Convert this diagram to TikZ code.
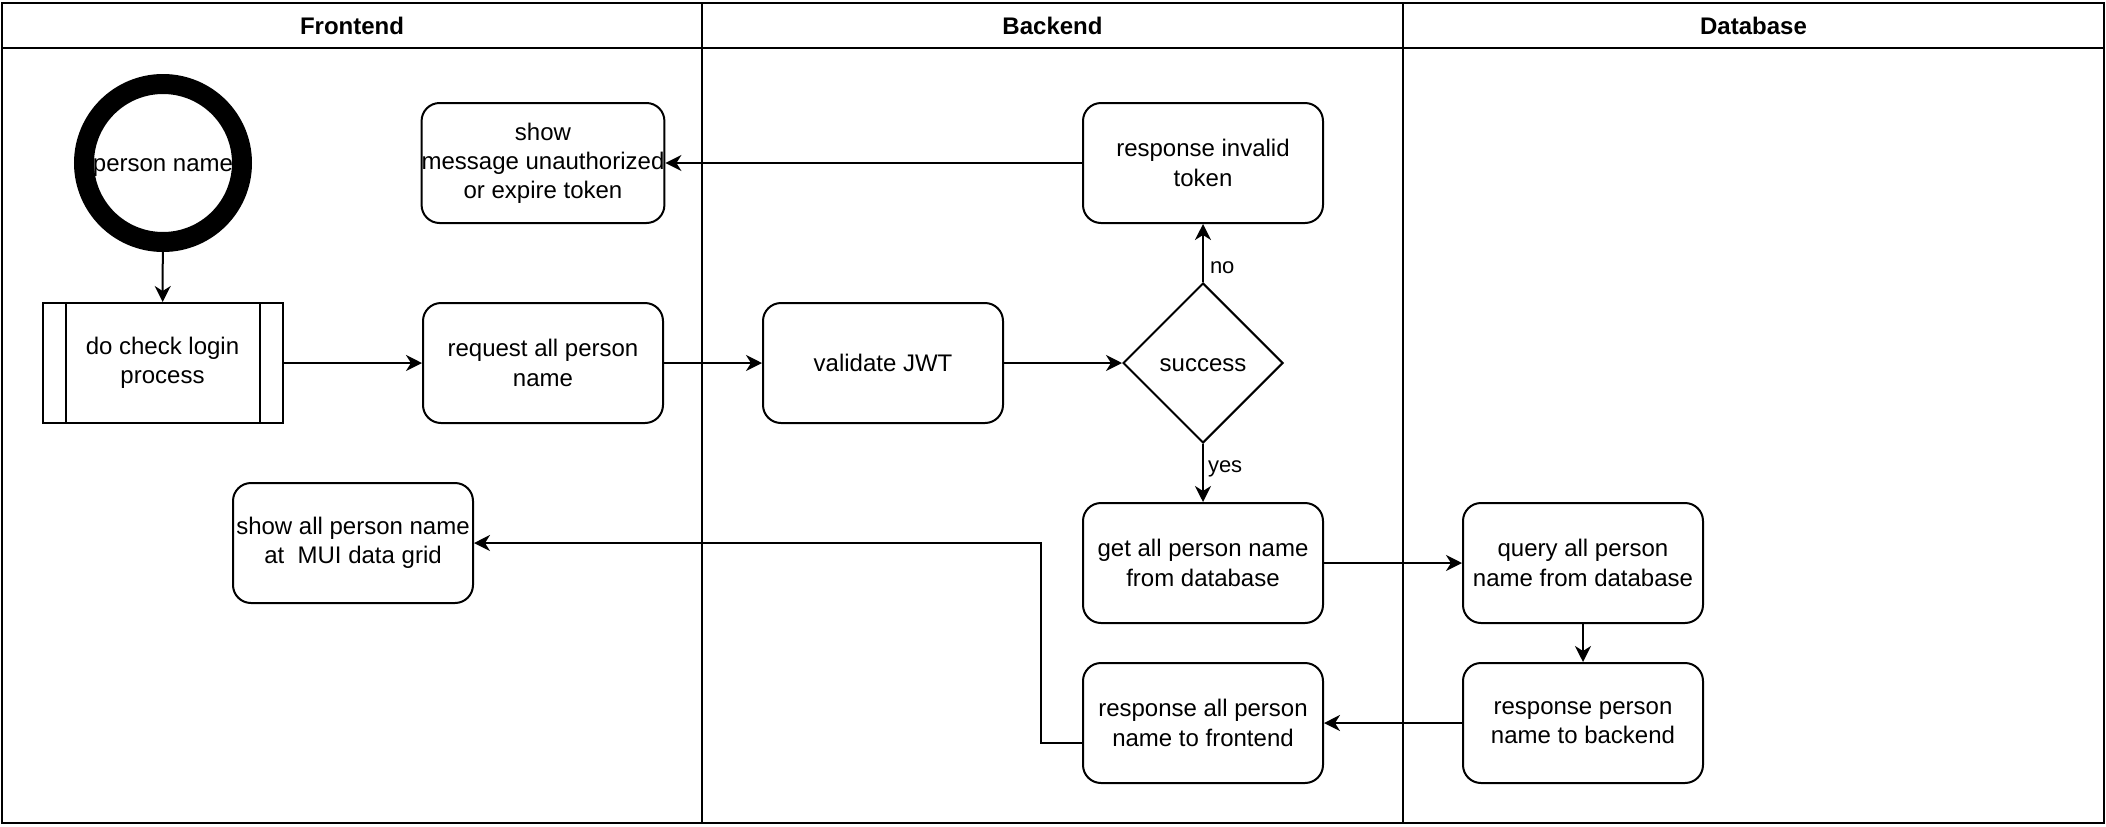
\documentclass[tikz,border=0pt]{standalone}
\usepackage{fontspec}
\setmainfont{Liberation Sans}
\usetikzlibrary{arrows.meta,shapes.geometric,calc}
\tikzset{
  lane/.style={draw, line width=1.2pt},
  txt/.style={font=\fontsize{12}{14.6}\selectfont},
  oneline/.style={text height=11.4pt, text depth=3pt},
  proc/.style={txt, draw, line width=1pt, rounded corners=9pt, minimum width=120pt, minimum height=60pt, inner sep=0pt, align=center},
  subproc/.style={txt, draw, line width=1pt, minimum width=120pt, minimum height=60pt, inner sep=0pt, align=center},
  decision/.style={txt, oneline, diamond, draw, line width=1pt, minimum width=80pt, minimum height=80pt, inner sep=0pt},
  startnode/.style={txt, oneline, circle, draw, line width=10pt, minimum size=79pt, inner sep=0pt},
  flow/.style={line width=1pt, -{Stealth[length=8pt,width=8pt,inset=2.5pt]}},
  lbl/.style={font=\fontsize{11}{13}\selectfont, anchor=west, inner sep=0pt, yshift=-2.5pt},
  hdr/.style={font=\bfseries\fontsize{12}{14.4}\selectfont}
}
\begin{document}
\begin{tikzpicture}[x=0.5pt,y=-0.5pt]
\useasboundingbox (0,0) rectangle (2106,826);
% swimlanes
\draw[lane] (2,3) rectangle (2104,823);
\draw[lane] (2,48) -- (2104,48);
\draw[lane] (702,3) -- (702,823);
\draw[lane] (1403,3) -- (1403,823);
\node[hdr] (hf) at (352,26) {Frontend};
\node[hdr] (hb) at (1052.5,26) {Backend};
\node[hdr] (hd) at (1753.5,26) {Database};
% nodes
\node[startnode] (start) at (163,163) {person name};
\node[subproc] (login) at (162.5,363) {do check login\\process};
\draw[line width=1pt] ([xshift=12pt]login.north west) -- ([xshift=12pt]login.south west);
\draw[line width=1pt] ([xshift=-12pt]login.north east) -- ([xshift=-12pt]login.south east);
\node[proc] (showmsg) at (543,163) {show\\message unauthorized\\or expire token};
\node[proc] (request) at (543,363) {request all person\\name};
\node[proc] (showall) at (353,543) {show all person name\\at\ \ MUI data grid};
\node[proc, oneline] (validate) at (883,363) {validate JWT};
\node[proc] (invalid) at (1203,163) {response invalid\\token};
\node[decision] (dec) at (1203,363) {success};
\node[proc] (getall) at (1203,563) {get all person name\\from database};
\node[proc] (respall) at (1203,723) {response all person\\name to frontend};
\node[proc] (query) at (1583,563) {query all person\\name from database};
\node[proc] (respdb) at (1583,723) {response person\\name to backend};
% edges
\draw[flow] (start) -- (login);
\draw[flow] (login) -- (request);
\draw[flow] (request) -- (validate);
\draw[flow] (validate) -- (dec);
\draw[flow] (dec) -- node[lbl, pos=0.33, xshift=3pt] {no} (invalid);
\draw[flow] (invalid) -- (showmsg);
\draw[flow] (dec) -- node[lbl, pos=0.35, xshift=2pt] {yes} (getall);
\draw[flow] (getall) -- (query);
\draw[flow] (query) -- (respdb);
\draw[flow] (respdb) -- (respall);
\draw[flow] ([yshift=-10pt]respall.west) -- ++(-41,0) |- (showall.east);
\end{tikzpicture}
\end{document}
